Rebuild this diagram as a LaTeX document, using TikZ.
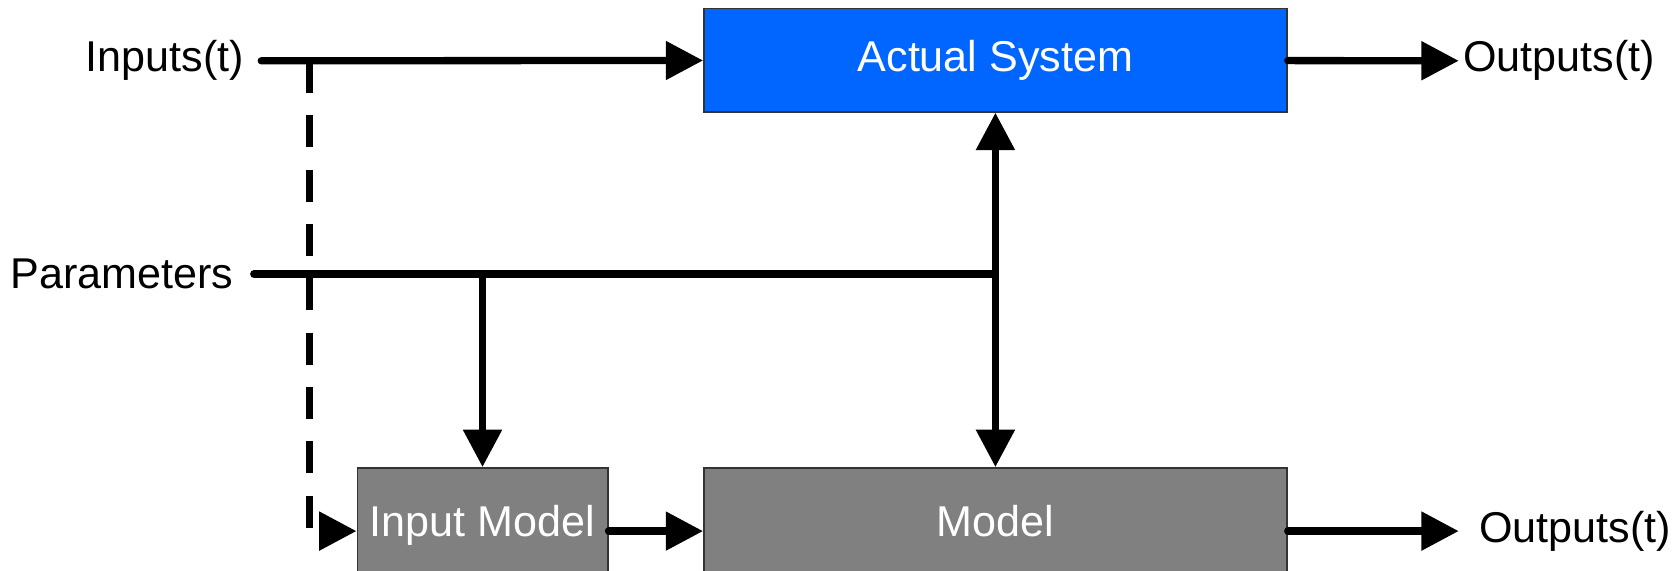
\documentclass[tikz,border=0pt]{standalone}
\usepackage{fontspec}
\setmainfont{Liberation Sans}
\usetikzlibrary{positioning,arrows.meta}
\definecolor{sysblue}{RGB}{0,102,255}

\begin{document}
\begin{tikzpicture}[x=0.02cm, y=-0.02cm, line width=3.9pt, line cap=round,
 	tip/.style={-{Triangle[length=0.7cm,width=0.7cm]}},
 	tips/.style={{Triangle[length=0.7cm,width=0.7cm]}-{Triangle[length=0.7cm,width=0.7cm]}},
 	block/.style={draw=black!80, line width=0.8pt, inner sep=0pt, text=white, font=\fontsize{23}{27}\selectfont},
 	lowblock/.style={block, fill=gray, anchor=north, text height=1.28cm, text depth=2.6cm},
 	lbl/.style={inner sep=0pt, font=\fontsize{23}{27}\selectfont}]
 	\useasboundingbox (0,0) rectangle (1568,535);
 	\clip (0,0) rectangle (1568,535);
 	\node[block, fill=sysblue, minimum width=10.94cm, minimum height=1.94cm] (actual) at (933.5,56.5) {Actual System};
 	\node[lowblock, minimum width=10.94cm] (model) at (933.5,438) {Model};
 	\node[lowblock, minimum width=4.7cm] (imodel) at (452.5,438) {Input Model};
 	\coordinate (i0) at (245,57);
 	\coordinate (p0) at (238,257);
 	\coordinate (d0) at (290,57);
 	\coordinate (o1) at (1368,57);
 	\coordinate (o2) at (model.mid east -| o1);
 	\node[lbl, left=0.26cm of i0] (inp) {Inputs(t)};
 	\node[lbl, left=0.32cm of p0] (par) {Parameters};
 	\node[lbl, right=0.02cm of o1] (out1) {Outputs(t)};
 	\node[lbl, right=0.32cm of o2] (out2) {Outputs(t)};
 	\draw[tip] (i0) -- (actual);
 	\draw[tip] (actual) -- (o1);
 	\draw (p0) -- (p0 -| actual.south);
 	\draw[tips] (actual) -- (model);
 	\draw[tip] (p0 -| imodel.north) -- (imodel.north);
 	\draw[tip, line cap=butt, dash pattern=on 0.6cm off 0.42cm] (d0) |- (imodel.mid west);
 	\draw[tip] (imodel.mid east) -- (model.mid west);
 	\draw[tip] (model.mid east) -- (o2);
 \end{tikzpicture}
\end{document}
